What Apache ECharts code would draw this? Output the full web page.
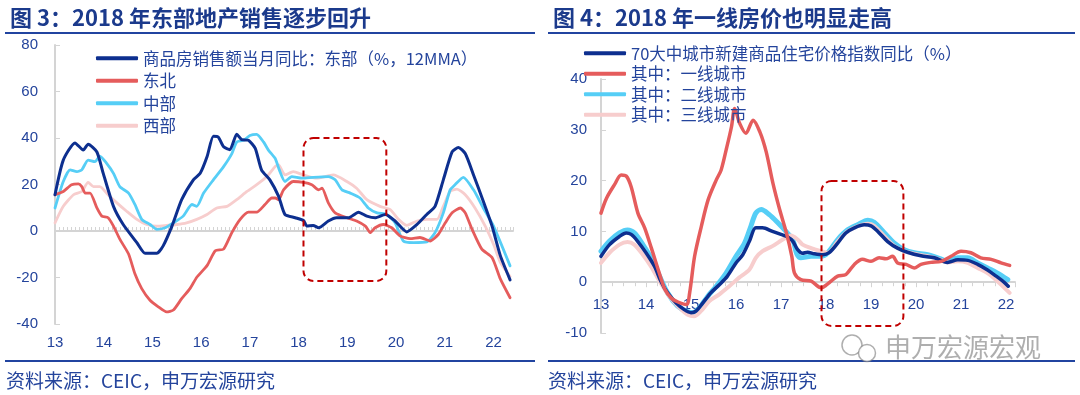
<!DOCTYPE html>
<html><head><meta charset="utf-8">
<script src="https://cdn.jsdelivr.net/npm/echarts@6/dist/echarts.min.js"></script>
<style>html,body{margin:0;padding:0;background:#fff}#c{width:1080px;height:395px}</style>
</head><body><div id="c"></div>
<script>
// ---------- Left chart data: [year(yy), value] ----------
const leftNames = ['商品房销售额当月同比：东部（%，12MMA）', '东北', '中部', '西部'];
const east = [[13.0,15.6],[13.17,30.5],[13.41,37.9],[13.58,34.8],[13.68,37.3],[13.86,34],[13.99,24.8],[14.2,10.6],[14.4,2.8],[14.68,-5],[14.85,-9.6],[15.09,-9.6],[15.22,-6.4],[15.4,2.1],[15.6,13.5],[15.84,22],[15.98,24.8],[16.12,31.9],[16.25,40.7],[16.35,40.4],[16.46,36.2],[16.59,35],[16.73,41.6],[16.83,39.3],[16.97,39],[17.11,35.5],[17.24,26.2],[17.41,22],[17.59,14.9],[17.72,7.1],[17.93,5.7],[18.1,4.5],[18.17,2.1],[18.3,2.4],[18.41,1.4],[18.61,4.3],[18.78,5.7],[19.02,5.7],[19.23,8.1],[19.4,6.4],[19.57,5.7],[19.78,7.1],[19.98,4.3],[20.22,-0.4],[20.43,2.8],[20.63,7.1],[20.8,10.6],[20.97,22],[21.15,34],[21.28,35.9],[21.42,33.3],[21.59,24.1],[21.79,12.8],[21.97,2.1],[22.14,-10.6],[22.34,-21]];
const northeast = [[13.0,15.6],[13.17,17],[13.34,19.9],[13.48,20.3],[13.55,19.1],[13.62,16.3],[13.72,16.3],[13.86,9.9],[13.96,6.4],[14.09,5.7],[14.2,2.1],[14.33,-3.5],[14.51,-9.9],[14.64,-18.4],[14.78,-24.8],[14.95,-29.8],[15.12,-32.6],[15.29,-34.8],[15.43,-34],[15.6,-29.1],[15.77,-24.8],[15.91,-19.9],[16.12,-14.9],[16.29,-8.5],[16.46,-7.8],[16.63,-0.7],[16.8,5],[16.97,8.1],[17.14,8.1],[17.31,11.4],[17.45,14.2],[17.52,14.2],[17.59,13.5],[17.69,17.7],[17.89,21.3],[18.1,20.9],[18.27,19.9],[18.41,17.7],[18.48,18.4],[18.61,12.1],[18.75,7.8],[18.99,5.7],[19.19,4.3],[19.37,2.1],[19.47,-0.7],[19.57,1.4],[19.74,2.8],[19.91,1.4],[20.08,-2.1],[20.29,-3.3],[20.49,-2.8],[20.7,-4.3],[20.87,-1.4],[21.01,3.5],[21.15,7.8],[21.32,9.9],[21.42,7.8],[21.56,0.7],[21.76,-7.8],[21.97,-11.4],[22.14,-20.6],[22.34,-28.7]];
const central = [[13.0,9.9],[13.17,21.3],[13.31,26.3],[13.45,25.5],[13.55,26.3],[13.68,30.5],[13.82,29.8],[13.92,32.2],[14.06,29.1],[14.2,24.8],[14.33,19.1],[14.51,16.3],[14.64,11.4],[14.78,5],[14.95,2.8],[15.09,0.7],[15.26,1.4],[15.43,3.5],[15.63,6.4],[15.81,11.4],[15.91,10.6],[16.05,16.3],[16.25,22],[16.46,27.7],[16.63,33.3],[16.73,38.3],[16.87,39],[17.0,41.1],[17.14,41.6],[17.28,38.3],[17.38,34.8],[17.52,31.2],[17.6,26.5],[17.72,21.3],[17.86,23.4],[18.07,22.7],[18.3,23.1],[18.61,23.4],[18.75,22],[18.89,17.7],[19.06,16.3],[19.26,14.2],[19.43,9.9],[19.61,7.8],[19.81,7.1],[19.98,3.5],[20.15,-4.3],[20.36,-5],[20.63,-4.7],[20.8,-0.7],[20.97,7.8],[21.11,17.7],[21.21,19.9],[21.38,23.1],[21.59,17.7],[21.79,9.9],[22.0,2.1],[22.34,-15]];
const west = [[13.0,3.5],[13.17,10.6],[13.38,15.6],[13.55,17],[13.68,20.9],[13.79,19.1],[13.92,19.1],[14.09,15.6],[14.27,12.1],[14.47,8.5],[14.68,5],[14.88,2.8],[15.09,2.1],[15.29,2.4],[15.5,2.8],[15.7,3.5],[15.91,5],[16.12,7.1],[16.32,9.9],[16.53,10.6],[16.73,13.5],[16.94,17],[17.14,19.9],[17.35,23.4],[17.52,27.7],[17.59,28.4],[17.72,24.1],[17.89,25.5],[18.1,24.1],[18.37,22.7],[18.71,24.1],[18.99,21.3],[19.19,18.4],[19.4,13.5],[19.67,10.6],[19.88,9.2],[20.05,5],[20.22,2.4],[20.43,4.3],[20.63,5],[20.84,5],[20.97,10.6],[21.11,17],[21.25,18],[21.42,15.6],[21.62,9.9],[21.83,2.1],[22.0,-5.7],[22.14,-13.5],[22.34,-19.6]];
const leftBox = [[18.1, 40], [19.8, -21.5]];   // dashed highlight (data coords)

// ---------- Right chart data ----------
const rightNames = ['70大中城市新建商品住宅价格指数同比（%）', '其中：一线城市', '其中：二线城市', '其中：三线城市'];
const national = [[13.0,5.1],[13.19,7.4],[13.41,9],[13.56,9.7],[13.67,9.4],[13.81,8.1],[14,5.8],[14.19,3.1],[14.33,0.2],[14.48,-2.1],[14.67,-4.1],[14.85,-5.4],[15,-6],[15.11,-5.7],[15.26,-4.1],[15.44,-2.1],[15.63,-0.5],[15.81,1.2],[16,3.8],[16.15,5.4],[16.3,8.1],[16.44,10.7],[16.59,10.7],[16.81,10],[17,9.4],[17.15,8.9],[17.26,8.1],[17.37,6.4],[17.48,5.7],[17.59,5.9],[17.74,5.6],[17.93,5.4],[18.07,5.8],[18.26,7.7],[18.44,9.7],[18.63,10.7],[18.85,11.3],[19,11.1],[19.15,10],[19.37,8],[19.59,6.7],[19.81,5.9],[20.11,5.2],[20.41,4.8],[20.7,3.9],[20.93,4.4],[21.15,4.3],[21.37,3.5],[21.59,2.4],[21.78,1.2],[21.93,0.2],[22.05,-0.8]];
const tier1 = [[13.0,13.6],[13.12,16.5],[13.3,19.2],[13.45,21.1],[13.56,20.9],[13.67,18.8],[13.82,13.6],[13.97,10.7],[14.12,6.7],[14.27,2.5],[14.42,-1.4],[14.56,-3.1],[14.71,-3.9],[14.9,-4.4],[14.97,-2.1],[15.08,5.1],[15.23,11],[15.38,16.2],[15.56,20.1],[15.67,22.1],[15.78,26],[15.9,30.6],[15.97,34.2],[16.08,31.3],[16.22,29.3],[16.38,31.9],[16.53,29.6],[16.67,25.7],[16.82,19.5],[16.97,14.3],[17.12,9.7],[17.24,5.1],[17.3,1.8],[17.44,0.5],[17.67,0.2],[17.89,-1.1],[18.07,-0.1],[18.26,1.2],[18.44,1.5],[18.63,3.5],[18.81,4.5],[19.0,4.1],[19.18,4.8],[19.33,4.6],[19.48,5.1],[19.59,3.8],[19.78,3.5],[19.96,2.8],[20.11,3.5],[20.33,3.9],[20.56,4.1],[20.78,5.1],[21.0,6.1],[21.22,5.8],[21.44,4.8],[21.67,4.5],[21.89,3.8],[22.08,3.3]];
const tier2 = [[13.0,6.1],[13.19,8.1],[13.41,9.7],[13.59,10.3],[13.74,9.7],[13.93,7.4],[14.11,4.8],[14.3,1.2],[14.48,-2.1],[14.7,-4.7],[14.89,-5.7],[15.04,-6],[15.19,-5],[15.37,-2.8],[15.56,-0.8],[15.78,1.8],[16,5.1],[16.19,7.7],[16.33,11],[16.44,13.6],[16.56,14.3],[16.74,13.3],[16.93,11.7],[17.11,10],[17.26,8.4],[17.35,5.6],[17.44,4.8],[17.67,5.1],[17.89,5.1],[18.04,5.8],[18.26,8.4],[18.48,10.3],[18.7,11.3],[18.93,12.2],[19.07,11.8],[19.3,9.7],[19.52,7.7],[19.74,6.4],[19.96,5.8],[20.26,5.4],[20.55,4.6],[20.7,4.1],[20.93,4.8],[21.15,4.8],[21.37,3.8],[21.59,2.8],[21.81,1.8],[22.04,0.5]];
const tier3 = [[13.0,3.8],[13.19,5.8],[13.41,7.4],[13.59,7.9],[13.74,7.4],[13.93,5.4],[14.11,3.1],[14.3,0.2],[14.52,-2.8],[14.74,-5],[14.93,-6.4],[15.07,-6.7],[15.22,-5.7],[15.41,-3.7],[15.63,-2.4],[15.85,-0.8],[16.07,0.9],[16.3,2.5],[16.44,4.8],[16.59,6.1],[16.81,7.1],[17.04,8.4],[17.22,9.2],[17.37,8.4],[17.48,7.4],[17.67,6.7],[17.89,6.1],[18.04,5.8],[18.26,8],[18.48,10],[18.7,11],[18.93,11.5],[19.07,11.1],[19.3,9],[19.52,7.1],[19.74,6.1],[19.96,5.6],[20.26,5.1],[20.55,4.4],[20.7,3.9],[20.93,4.1],[21.15,3.8],[21.37,2.8],[21.59,1.8],[21.81,0.2],[22.08,-2.1]];
const rightBox = [[17.9, 19.9], [19.72, -8.6]];

// ---------- Texts ----------
const titles = ['图 3：2018 年东部地产销售逐步回升', '图 4：2018 年一线房价也明显走高'];
const sourceText = '资料来源：CEIC，申万宏源研究';
const watermark = '申万宏源宏观';

const NAVY = '#0d2f8f', RED = '#e55c5c', CYAN = '#56cef6', PINK = '#f7cdcd';
const TXT = '#24449c', TITLE = '#1b3a8c', RULE = '#2144a0', GRAY = '#d4d4d4';
const CJK = '"Noto Sans CJK SC", "Noto Sans", sans-serif';
const NUM = '"Liberation Sans", Arial, sans-serif';

const chart = echarts.init(document.getElementById('c'), null, {renderer: 'canvas'});

function line(name, data, color, width, xi, yi, smooth) {
  return {type: 'line', name, data, xAxisIndex: xi, yAxisIndex: yi, color,
    showSymbol: false, symbol: 'none', smooth: smooth,
    lineStyle: {color, width, cap: 'round', join: 'round'}};
}
const legendBase = {orient: 'vertical', icon: 'roundRect', itemWidth: 42, itemHeight: 4,
  itemStyle: {borderWidth: 0}, selectedMode: false};

const option = {
  animation: false,
  backgroundColor: '#fff',
  title: [
    {text: titles[0], left: 5, top: 2, textStyle: {fontFamily: CJK, fontSize: 22, fontWeight: 'bold', color: TITLE}},
    {text: titles[1], left: 548, top: 2, textStyle: {fontFamily: CJK, fontSize: 22, fontWeight: 'bold', color: TITLE}}
  ],
  legend: [
    Object.assign({}, legendBase, {data: leftNames, left: 91, top: 42, itemGap: 0,
      textStyle: {fontFamily: CJK, fontSize: 16.5, color: TXT, lineHeight: 22.5}}),
    Object.assign({}, legendBase, {data: rightNames, left: 579, top: 38, itemGap: 0, itemWidth: 42,
      textStyle: {fontFamily: CJK, fontSize: 16.5, color: TXT, lineHeight: 20.5}})
  ],
  grid: [
    {left: 55, top: 45, width: 458, height: 279},
    {left: 601, top: 79, width: 414, height: 254}
  ],
  xAxis: [
    {gridIndex: 0, type: 'value', min: 13, max: 22.4, interval: 1, position: 'bottom',
      axisLine: {show: false, onZero: false}, axisTick: {show: false}, splitLine: {show: false},
      axisLabel: {margin: 11, fontFamily: NUM, fontSize: 15, color: TXT,
        formatter: v => Number.isInteger(v) ? String(v) : ''}},
    {gridIndex: 0, type: 'value', min: 13, max: 22.4, interval: 1, position: 'bottom',
      axisLine: {show: true, onZero: true, lineStyle: {color: GRAY, width: 2}},
      axisTick: {show: true, inside: true, length: 4, lineStyle: {color: GRAY, width: 1}},
      minorTick: {show: true, splitNumber: 12, length: 4, lineStyle: {color: GRAY, width: 1}},
      axisLabel: {show: false}, splitLine: {show: false}},
    {gridIndex: 1, type: 'value', min: 13, max: 22.2, interval: 1,
      axisLine: {show: true, onZero: true, lineStyle: {color: GRAY, width: 2}},
      axisTick: {show: true, length: 5, lineStyle: {color: GRAY, width: 1}},
      minorTick: {show: true, splitNumber: 4, length: 4, lineStyle: {color: GRAY, width: 1}},
      axisLabel: {show: false}, splitLine: {show: false}},
    {gridIndex: 1, type: 'value', min: 13, max: 22.2, interval: 1, position: 'bottom',
      axisLine: {show: false, onZero: false}, axisTick: {show: false}, splitLine: {show: false},
      axisLabel: {margin: -36, fontFamily: NUM, fontSize: 15, color: TXT,
        formatter: v => Number.isInteger(v) ? String(v) : ''}}
  ],
  yAxis: [
    {gridIndex: 0, type: 'value', min: -40, max: 80, interval: 20,
      axisLine: {show: true, lineStyle: {color: GRAY, width: 2}},
      axisTick: {show: true, inside: true, length: 5, lineStyle: {color: GRAY}},
      axisLabel: {margin: 17, fontFamily: NUM, fontSize: 15, color: TXT},
      splitLine: {show: false}},
    {gridIndex: 1, type: 'value', min: -10, max: 40, interval: 10,
      axisLine: {show: true, lineStyle: {color: GRAY, width: 2}},
      axisTick: {show: true, inside: true, length: 5, lineStyle: {color: GRAY}},
      axisLabel: {margin: 14, fontFamily: NUM, fontSize: 15, color: TXT},
      splitLine: {show: false}}
  ],
  series: [
    line(leftNames[3], west, PINK, 2.8, 0, 0, 0.2),
    line(leftNames[2], central, CYAN, 2.8, 0, 0, 0.2),
    line(leftNames[1], northeast, RED, 2.8, 0, 0, 0.2),
    line(leftNames[0], east, NAVY, 3, 0, 0, 0.2),
    line(rightNames[2], tier2, CYAN, 5, 2, 1, 0.3),
    line(rightNames[3], tier3, PINK, 4, 2, 1, 0.3),
    line(rightNames[0], national, NAVY, 3.5, 2, 1, 0.3),
    line(rightNames[1], tier1, RED, 3.5, 2, 1, 0.3)
  ]
};
chart.setOption(option);

function boxGraphic(id, seriesIndex, box) {
  const p1 = chart.convertToPixel({seriesIndex}, box[0]);
  const p2 = chart.convertToPixel({seriesIndex}, box[1]);
  return {type: 'rect', id, z: 50,
    shape: {x: p1[0], y: p1[1], width: p2[0] - p1[0], height: p2[1] - p1[1], r: 10},
    style: {fill: 'none', stroke: '#c00000', lineWidth: 2, lineDash: [6, 4]}};
}
const wmGray = 'rgba(120,120,120,0.6)';
chart.setOption({graphic: [
  {type: 'line', id: 'r1', shape: {x1: 5, y1: 33, x2: 535, y2: 33}, style: {stroke: RULE, lineWidth: 2}},
  {type: 'line', id: 'r2', shape: {x1: 548, y1: 33, x2: 1075, y2: 33}, style: {stroke: RULE, lineWidth: 2}},
  {type: 'line', id: 'r3', shape: {x1: 5, y1: 361, x2: 535, y2: 361}, style: {stroke: RULE, lineWidth: 2}},
  {type: 'line', id: 'r4', shape: {x1: 548, y1: 361, x2: 1075, y2: 361}, style: {stroke: RULE, lineWidth: 2}},
  {type: 'text', id: 's1', x: 6, y: 371, style: {text: sourceText, font: '19px ' + CJK, fill: TXT}},
  {type: 'text', id: 's2', x: 548, y: 371, style: {text: sourceText, font: '19px ' + CJK, fill: TXT}},
  {type: 'circle', id: 'w1', shape: {cx: 852, cy: 345, r: 10}, style: {fill: 'none', stroke: wmGray, lineWidth: 1.5}},
  {type: 'circle', id: 'w2', shape: {cx: 867, cy: 353, r: 8.5}, style: {fill: 'rgba(255,255,255,0.9)', stroke: wmGray, lineWidth: 1.5}},
  {type: 'text', id: 'w3', x: 885, y: 334, style: {text: watermark, font: '26px ' + CJK, fill: wmGray}},
  boxGraphic('b1', 3, leftBox),
  boxGraphic('b2', 6, rightBox)
]});
</script></body></html>
